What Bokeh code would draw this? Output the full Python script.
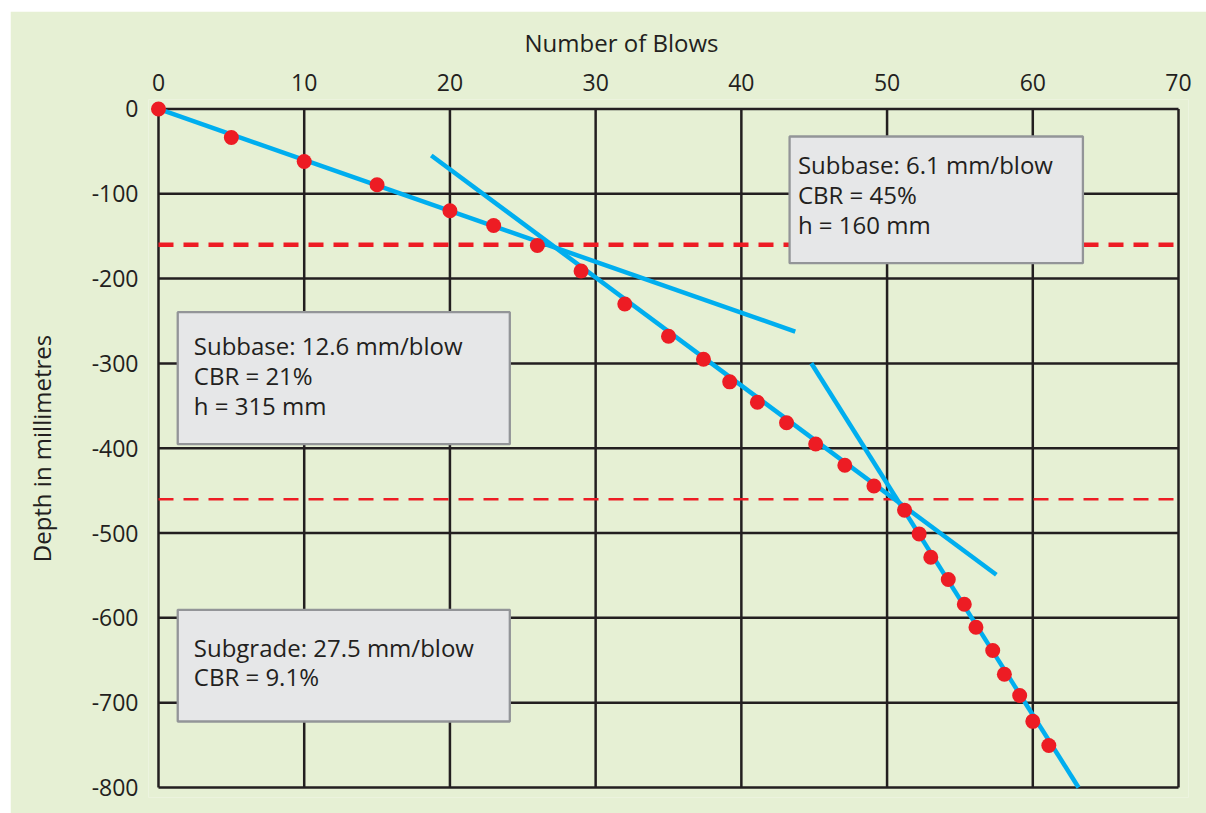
from bokeh.plotting import figure
from bokeh.models import Range1d, FixedTicker
from bokeh.embed import file_html
from bokeh.resources import INLINE
from bokeh.core.properties import value

# ---- data ----
blows = [0, 5, 10, 15, 20, 23, 26, 29, 32, 35, 37.4, 39.2, 41.1, 43.1, 45.1, 47.1,
         49.1, 51.2, 52.2, 53.0, 54.2, 55.3, 56.1, 57.25, 58.05, 59.1, 60.0, 61.1]
depth = [0, -33.6, -61.9, -89.4, -120, -137.4, -161, -191, -230, -268, -295, -321.7,
         -345.7, -370, -395, -420, -444.5, -473, -501, -528.5, -554.8, -584, -611,
         -638.5, -666.4, -691.5, -722, -750.5]

# fitted lines (start, end)
fit_a_x = [0, 43.7]
fit_a_y = [0, -262.4]
fit_b_x = [18.72, 57.5]
fit_b_y = [-54.8, -549.2]
fit_c_x = [44.8, 63.14]
fit_c_y = [-299.7, -800]

boundary_thick = -160
boundary_thin = -460

x_ticks = [0, 10, 20, 30, 40, 50, 60, 70]
y_ticks = [0, -100, -200, -300, -400, -500, -600, -700, -800]

box_text = [
    ["Subbase: 6.1 mm/blow", "CBR = 45%", "h = 160 mm"],
    ["Subbase: 12.6 mm/blow", "CBR = 21%", "h = 315 mm"],
    ["Subgrade: 27.5 mm/blow", "CBR = 9.1%"],
]

# ---- styling / layout ----
GREEN = "#e6f0d4"
DARK = "#231f20"
BLUE = "#00aeef"
RED = "#ed1c24"
FONT = "Open Sans"

p = figure(frame_width=1040, frame_height=698,
           min_border_left=138, min_border_right=18, min_border_top=87, min_border_bottom=17,
           x_range=Range1d(-0.686, 70.686), y_range=Range1d(-811.8, 11.2),
           x_axis_location="above", output_backend="svg", toolbar_location=None,
           background_fill_color=GREEN, border_fill_color=GREEN, outline_line_color=None)
p.margin = (11, 0, 0, 10)
p.grid.visible = False

for ax, ticks, so in ((p.xaxis, x_ticks, 3), (p.yaxis, y_ticks, 4)):
    ax.ticker = FixedTicker(ticks=ticks)
    ax.axis_line_color = None
    ax.major_tick_line_color = None
    ax.minor_tick_line_color = None
    ax.major_label_text_font = FONT
    ax.major_label_text_font_size = "23px"
    ax.major_label_text_color = DARK
    ax.major_label_standoff = so
    ax.major_label_overrides = {t: str(t) for t in ticks}

# y axis title
p.yaxis.axis_label = "Depth in millimetres"
p.yaxis.axis_label_text_font = FONT
p.yaxis.axis_label_text_font_size = "24px"
p.yaxis.axis_label_text_font_style = "normal"
p.yaxis.axis_label_text_color = DARK
p.yaxis.axis_label_standoff = 31

# x axis title (as plot title above the top axis, shifted like the reference)
p.title.text = "Number of Blows"
p.title.align = "left"
p.title.offset = 376
p.title.text_font = FONT
p.title.text_font_size = "24px"
p.title.text_font_style = "normal"
p.title.text_color = DARK
p.title.standoff = 24

xmin, xmax = min(x_ticks), max(x_ticks)
ymin, ymax = min(y_ticks), max(y_ticks)

# grid + frame
p.segment(x0=x_ticks, y0=[ymin] * len(x_ticks), x1=x_ticks, y1=[ymax] * len(x_ticks),
          line_color=DARK, line_width=2.5)
p.segment(x0=[xmin] * len(y_ticks), y0=y_ticks, x1=[xmax] * len(y_ticks), y1=y_ticks,
          line_color=DARK, line_width=2.5)

# layer boundaries
p.line([xmin, xmax], [boundary_thick, boundary_thick], line_color=RED, line_width=4.5,
       line_dash="15 10")
p.line([xmin, xmax], [boundary_thin, boundary_thin], line_color=RED, line_width=2.5,
       line_dash="15 10")

# annotation boxes
box_left = [43.31, 1.32, 1.32]
box_right = [63.44, 24.11, 24.11]
box_top = [-32.4, -239.6, -590.5]
box_bottom = [-181.8, -395.2, -722.2]
p.quad(left=box_left, right=box_right, top=box_top, bottom=box_bottom,
       fill_color="#e6e7e8", line_color="#939598", line_width=2.3)

# fitted lines
for fx, fy in ((fit_a_x, fit_a_y), (fit_b_x, fit_b_y), (fit_c_x, fit_c_y)):
    p.line(fx, fy, line_color=BLUE, line_width=4.5)

# data points
p.scatter(blows, depth, size=15, fill_color=RED, line_color=None)

# box texts
text_x = [43.88, 2.42, 2.42]
text_y0 = [-66.0, -279.0, -634.5]
line_step = 35.2
tx, ty, tt = [], [], []
for bx, by, lines in zip(text_x, text_y0, box_text):
    for i, s in enumerate(lines):
        tx.append(bx)
        ty.append(by - i * line_step)
        tt.append(s)
p.text(x=tx, y=ty, text=tt, text_font=value(FONT), text_font_size="24px",
       text_color=DARK, text_baseline="alphabetic", text_align="left")

open("out.html", "w").write(file_html(p, INLINE))
